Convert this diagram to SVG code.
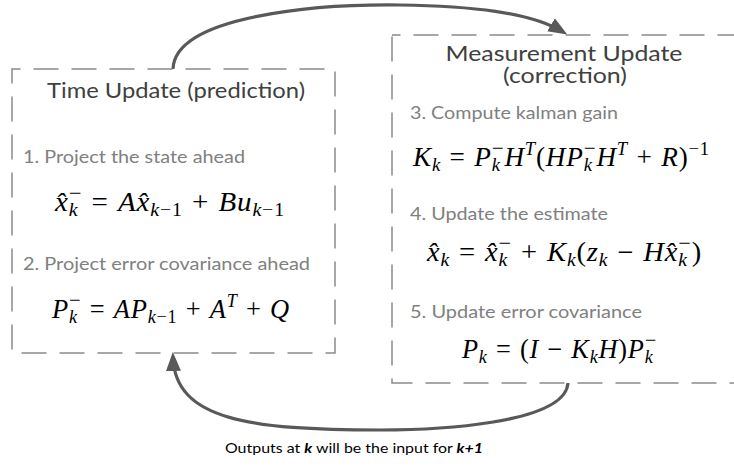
<svg xmlns="http://www.w3.org/2000/svg" width="734" height="468" viewBox="0 0 734 468">
<style>
.box{fill:none;stroke:#8a8a8a;stroke-width:1.5;stroke-dasharray:25 13}
.conn{fill:none;stroke:#595959;stroke-width:3.2}
.title{font-family:Lato,"Liberation Sans",sans-serif;font-size:21px;fill:#404040}
.lbl{font-family:Lato,"Liberation Sans",sans-serif;font-size:17px;fill:#808080}
.eq{font-family:"Liberation Serif","DejaVu Serif",serif;font-size:27px;fill:#000;letter-spacing:0.8px}
.v{font-style:italic}
.sb{font-size:18.5px}
.mn{font-size:21px}
.note{font-family:Lato,"Liberation Sans",sans-serif;font-size:13.5px;fill:#000}
.bi{font-weight:bold;font-style:italic}
</style>
<defs>
<marker id="ah" markerUnits="userSpaceOnUse" markerWidth="20" markerHeight="16" refX="14" refY="7.5" orient="auto">
<path d="M0,0 L19,7.5 L0,15 z" fill="#595959"/>
</marker>
</defs>
<g id="connectors">
<path class="conn" d="M173,69 C175,15 320,4 400,5 C470,6 530,12 563,32" marker-end="url(#ah)"/>
<path class="conn" d="M568,383 C565,425 430,430 380,430 C250,430 175,420 173,357" marker-end="url(#ah)"/>
</g>
<g id="time-update">
<rect class="box" x="12" y="69" width="323" height="284" stroke-dashoffset="16.5"/>
<text class="title" x="176" y="98" text-anchor="middle" textLength="258" lengthAdjust="spacingAndGlyphs">Time Update (prediction)</text>
<text class="lbl" x="23" y="163" textLength="222" lengthAdjust="spacingAndGlyphs">1. Project the state ahead</text>
<text class="eq" x="170" y="211" text-anchor="middle" textLength="230" lengthAdjust="spacingAndGlyphs"><tspan class="v">x̂</tspan><tspan class="sb v" dy="5">k</tspan><tspan class="mn" dx="-9" dy="-16">−</tspan><tspan dy="11" dx="1"> = </tspan><tspan class="v" dx="1">Ax̂</tspan><tspan class="sb" dy="5"><tspan class="v">k</tspan>−1</tspan><tspan dy="-5" dx="1"> + </tspan><tspan class="v" dx="1">Bu</tspan><tspan class="sb" dy="5"><tspan class="v">k</tspan>−1</tspan></text>
<text class="lbl" x="23" y="270" textLength="287" lengthAdjust="spacingAndGlyphs">2. Project error covariance ahead</text>
<text class="eq" x="171" y="318" text-anchor="middle" textLength="238" lengthAdjust="spacingAndGlyphs"><tspan class="v">P</tspan><tspan class="sb v" dy="5">k</tspan><tspan class="mn" dx="-9" dy="-16">−</tspan><tspan dy="11" dx="1"> = </tspan><tspan class="v" dx="1">AP</tspan><tspan class="sb" dy="5"><tspan class="v">k</tspan>−1</tspan><tspan dy="-5" dx="1"> + </tspan><tspan class="v" dx="1">A</tspan><tspan class="sb v" dy="-11">T</tspan><tspan dy="11" dx="1"> + </tspan><tspan class="v" dx="1">Q</tspan></text>
</g>
<g id="measurement-update">
<rect class="box" x="392" y="35" width="360" height="348" stroke-dashoffset="16.5"/>
<text class="title" x="564" y="61" text-anchor="middle" textLength="237" lengthAdjust="spacingAndGlyphs">Measurement Update</text>
<text class="title" x="565" y="83" text-anchor="middle" textLength="124" lengthAdjust="spacingAndGlyphs">(correction)</text>
<text class="lbl" x="410" y="119" textLength="208" lengthAdjust="spacingAndGlyphs">3. Compute kalman gain</text>
<text class="eq" x="561.5" y="166" text-anchor="middle" textLength="297" lengthAdjust="spacingAndGlyphs"><tspan class="v">K</tspan><tspan class="sb v" dy="5">k</tspan><tspan dy="-5" dx="1"> = </tspan><tspan class="v" dx="1">P</tspan><tspan class="sb v" dy="5">k</tspan><tspan class="mn" dx="-9" dy="-16">−</tspan><tspan class="v" dy="11">H</tspan><tspan class="sb v" dy="-11">T</tspan><tspan dy="11">(</tspan><tspan class="v">HP</tspan><tspan class="sb v" dy="5">k</tspan><tspan class="mn" dx="-9" dy="-16">−</tspan><tspan class="v" dy="11">H</tspan><tspan class="sb v" dy="-11">T</tspan><tspan dy="11" dx="1"> + </tspan><tspan class="v" dx="1">R</tspan><tspan>)</tspan><tspan class="sb" dy="-11">−1</tspan></text>
<text class="lbl" x="410" y="220" textLength="198" lengthAdjust="spacingAndGlyphs">4. Update the estimate</text>
<text class="eq" x="564.5" y="261" text-anchor="middle" textLength="275" lengthAdjust="spacingAndGlyphs"><tspan class="v">x̂</tspan><tspan class="sb v" dy="5">k</tspan><tspan dy="-5" dx="1"> = </tspan><tspan class="v" dx="1">x̂</tspan><tspan class="sb v" dy="5">k</tspan><tspan class="mn" dx="-9" dy="-16">−</tspan><tspan dy="11" dx="1"> + </tspan><tspan class="v" dx="1">K</tspan><tspan class="sb v" dy="5">k</tspan><tspan dy="-5">(</tspan><tspan class="v">z</tspan><tspan class="sb v" dy="5">k</tspan><tspan dy="-5" dx="1"> − </tspan><tspan class="v" dx="1">Hx̂</tspan><tspan class="sb v" dy="5">k</tspan><tspan class="mn" dx="-9" dy="-16">−</tspan><tspan dy="11">)</tspan></text>
<text class="lbl" x="410" y="318" textLength="232" lengthAdjust="spacingAndGlyphs">5. Update error covariance</text>
<text class="eq" x="559.5" y="358" text-anchor="middle" textLength="195" lengthAdjust="spacingAndGlyphs"><tspan class="v">P</tspan><tspan class="sb v" dy="5">k</tspan><tspan dy="-5" dx="1"> = </tspan><tspan dx="1">(</tspan><tspan class="v">I</tspan><tspan dx="1"> − </tspan><tspan class="v" dx="1">K</tspan><tspan class="sb v" dy="5">k</tspan><tspan class="v" dy="-5">H</tspan><tspan>)</tspan><tspan class="v">P</tspan><tspan class="sb v" dy="5">k</tspan><tspan class="mn" dx="-9" dy="-16">−</tspan></text>
</g>
<g id="note">
<text class="note" x="354" y="453" text-anchor="middle" textLength="258" lengthAdjust="spacingAndGlyphs">Outputs at <tspan class="bi">k</tspan> will be the input for <tspan class="bi">k+1</tspan></text>
</g>
</svg>
